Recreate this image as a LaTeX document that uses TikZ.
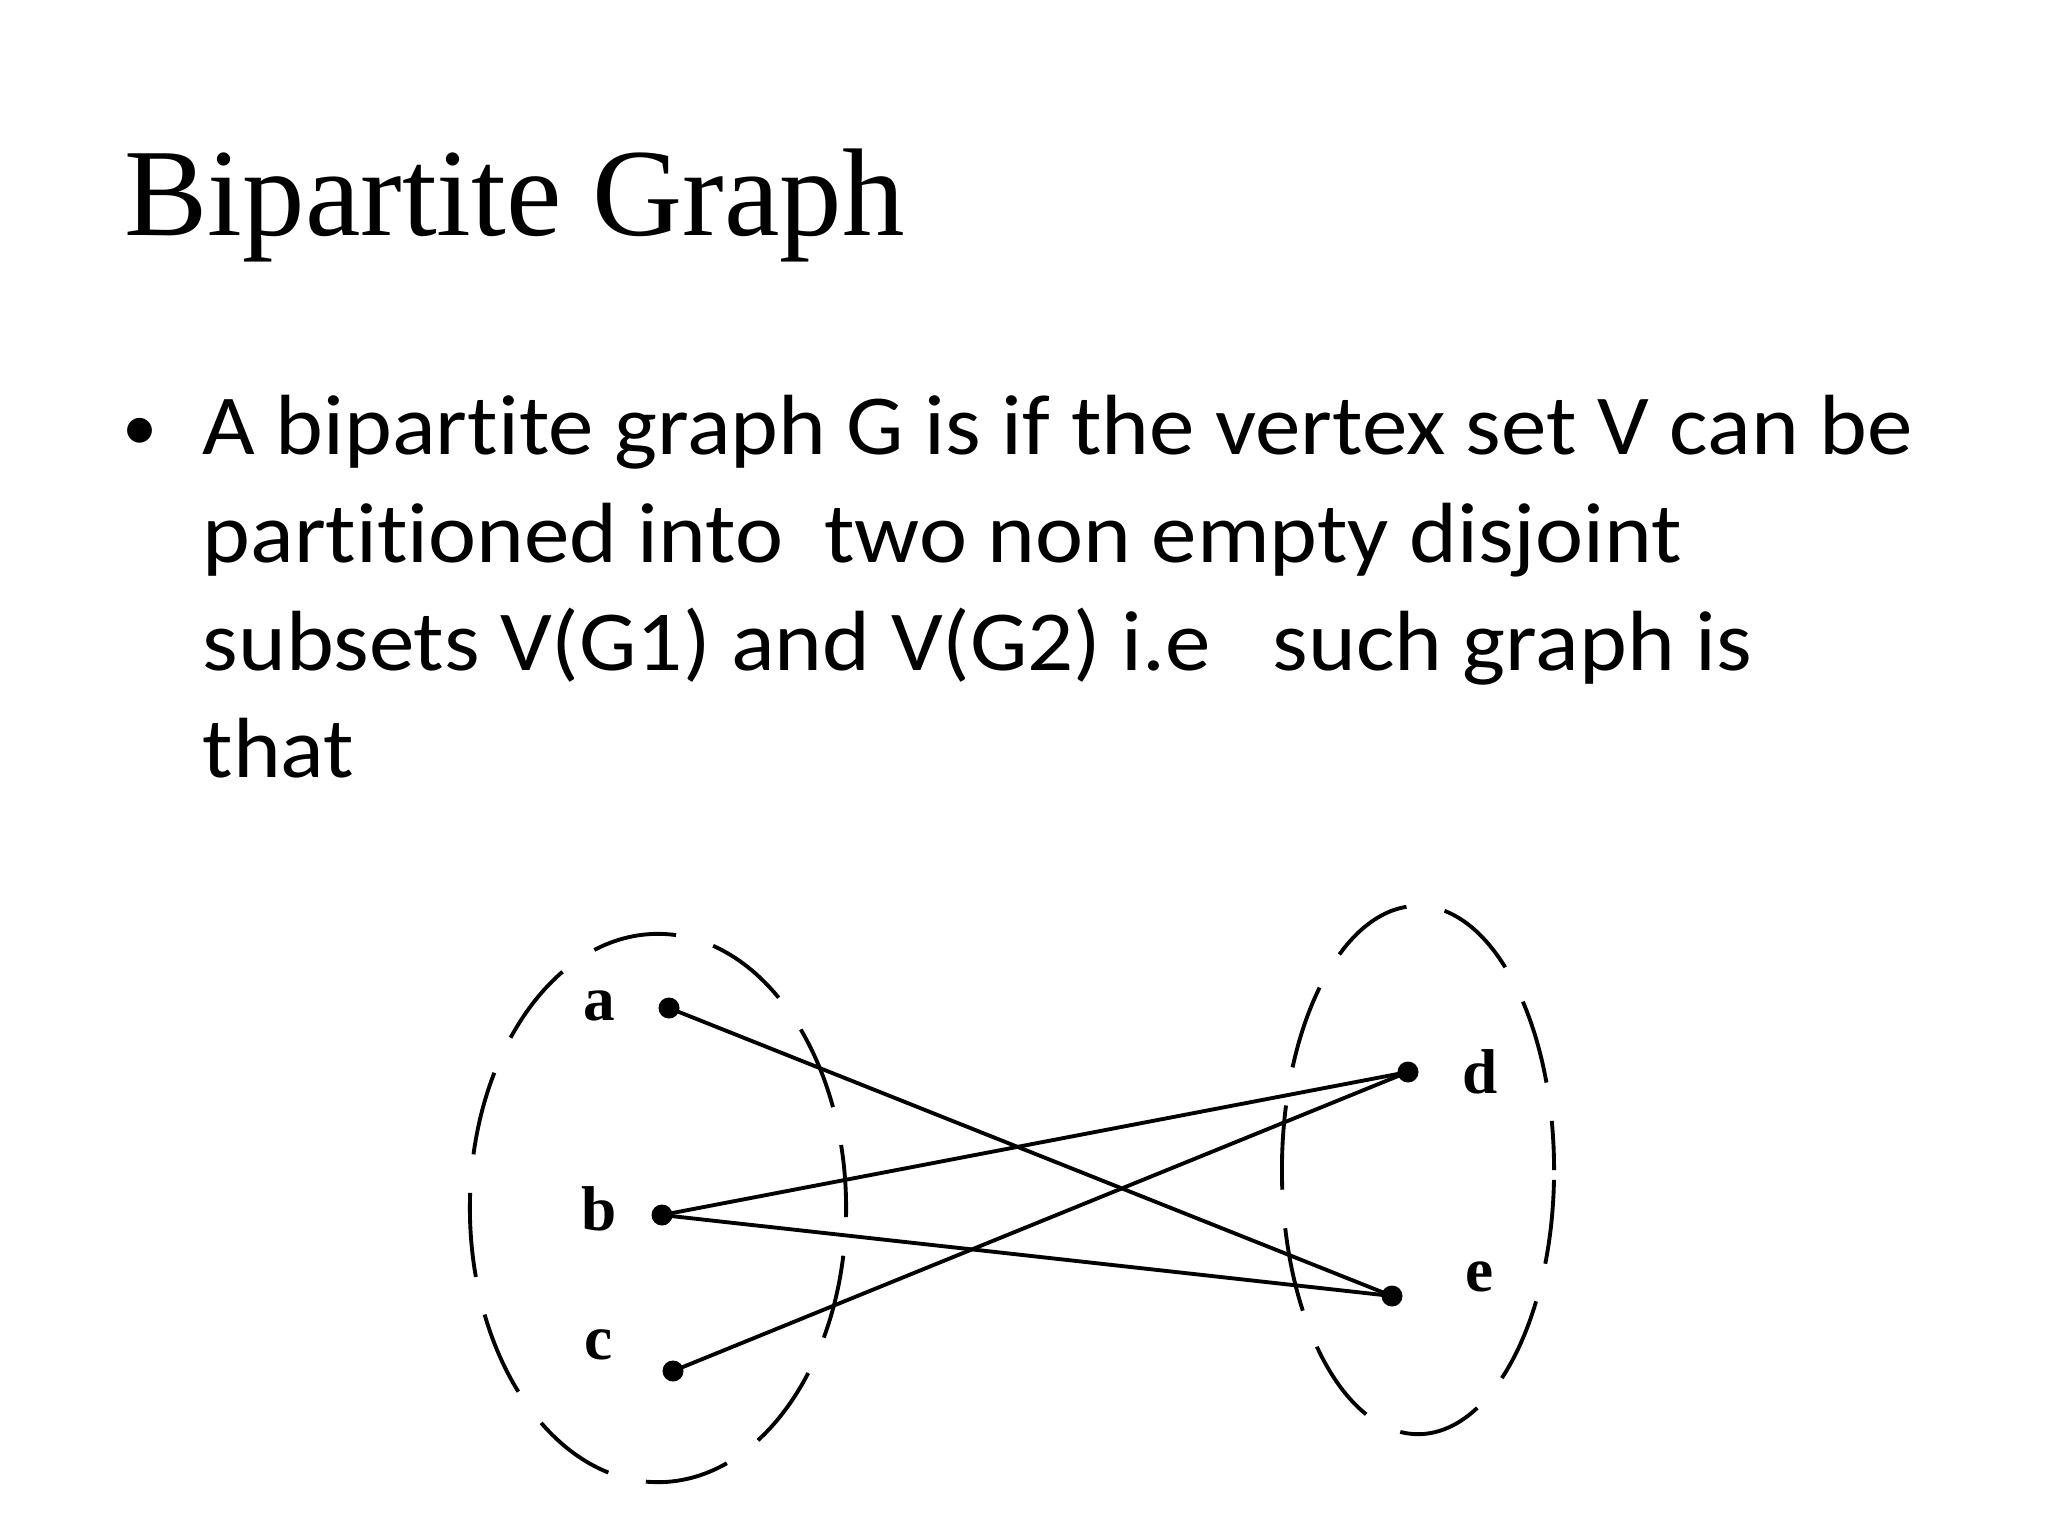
\documentclass[tikz,border=0pt]{standalone}
\usepackage{fontspec}
\setmainfont{Liberation Serif}
\newfontfamily\bodyfont[RawFeature=-liga, FakeStretch=1.065]{Carlito}
\newfontfamily\bulletfont{Carlito}
\tikzset{
  titletext/.style={anchor=base west, inner sep=0pt, font=\fontsize{35.5}{40}\selectfont},
  bodytext/.style={anchor=base west, inner sep=0pt, font=\bodyfont\fontsize{24.3}{29}\selectfont},
  vdot/.style={circle, fill=black, inner sep=0pt, minimum size=0.21cm},
  vlabel/.style={inner sep=0pt, font=\bfseries\fontsize{18}{20}\selectfont},
  setline/.style={line width=1.1pt, dash pattern=on 24pt off 11pt},
  edge/.style={line width=1.1pt}
}
\begin{document}
\begin{tikzpicture}[x=0.01cm,y=-0.01cm]
\useasboundingbox[fill=white] (0,0) rectangle (2048,1536);
\node[titletext] (title) at (124,235) {Bipartite Graph};
\node[anchor=base, inner sep=0pt, font=\bulletfont\fontsize{20}{24}\selectfont] (bullet) at (140,450) {•};
\node[bodytext] (l1) at (202,454) {A bipartite graph G is if the vertex set V can be};
\node[bodytext] (l2) at (202,562) {partitioned into\ \ two non empty disjoint};
\node[bodytext] (l3) at (202,670) {subsets V(G1) and V(G2) i.e\ \ \ such graph is};
\node[bodytext] (l4) at (202,777) {that};
\fill[white] (190,779) rectangle (420,800);
% sets
\draw[setline, dash phase=6pt] (658,1208) ellipse [x radius=1.88cm, y radius=2.74cm];
\draw[setline, dash phase=10pt] (1418,1170) ellipse [x radius=1.36cm, y radius=2.64cm];
% vertices
\node[vdot] (a) at (669,1008) {};
\node[vdot] (b) at (662,1215) {};
\node[vdot] (c) at (673,1371) {};
\node[vdot] (d) at (1408,1072) {};
\node[vdot] (e) at (1392,1296) {};
\node[vlabel] (la) at (599,1006) {a};
\node[vlabel] (lb) at (599,1209) {b};
\node[vlabel] (lc) at (599,1345) {c};
\node[vlabel] (ld) at (1480,1072) {d};
\node[vlabel] (le) at (1480,1277) {e};
% edges
\draw[edge] (a.center) -- (e.center);
\draw[edge] (b.center) -- (d.center);
\draw[edge] (b.center) -- (e.center);
\draw[edge] (c.center) -- (d.center);
\end{tikzpicture}
\end{document}
